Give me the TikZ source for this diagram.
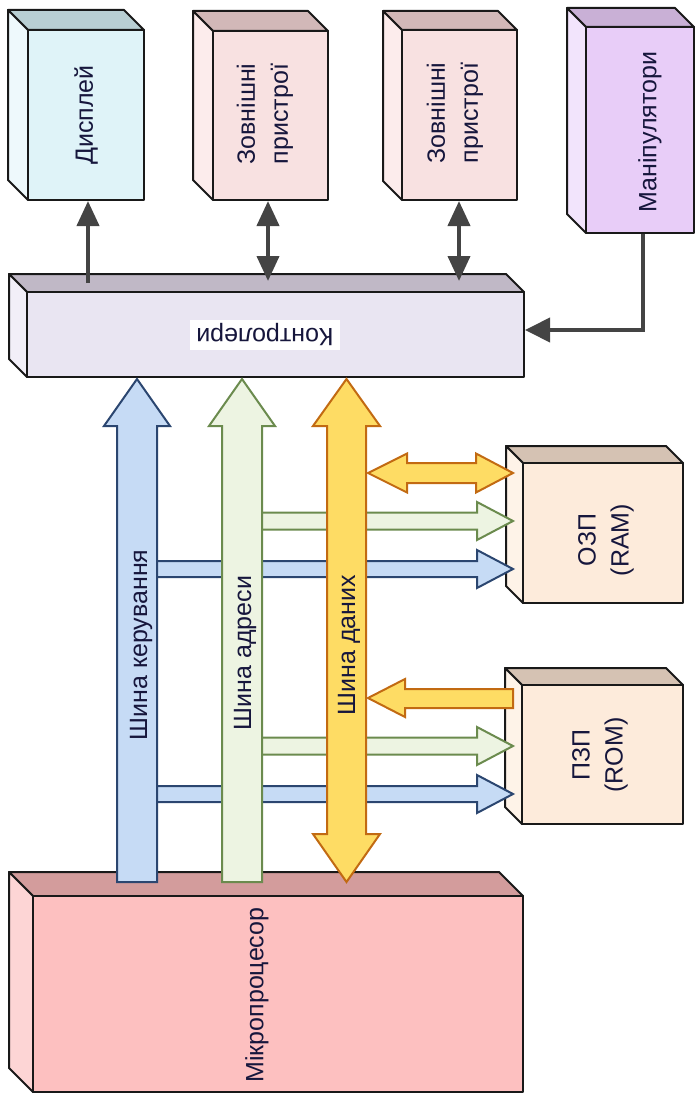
\documentclass[tikz,border=0pt]{standalone}
\usepackage{fontspec}
\setmainfont{Liberation Sans}
\usetikzlibrary{arrows.meta}
\definecolor{txtc}{HTML}{16163C}
\definecolor{dispF}{HTML}{DFF3F8}\definecolor{dispT}{HTML}{B9CFD3}\definecolor{dispS}{HTML}{EEF9FC}
\definecolor{extF}{HTML}{F8E1E1}\definecolor{extT}{HTML}{D2B8B8}\definecolor{extS}{HTML}{FCECEC}
\definecolor{manF}{HTML}{E8CDF8}\definecolor{manT}{HTML}{C9B0D6}\definecolor{manS}{HTML}{F2E4FC}
\definecolor{ctlF}{HTML}{E9E5F2}\definecolor{ctlT}{HTML}{C0B8C6}\definecolor{ctlS}{HTML}{F2EFF8}
\definecolor{memF}{HTML}{FDEBDB}\definecolor{memT}{HTML}{D5C2B3}\definecolor{memS}{HTML}{FEF3E8}
\definecolor{cpuF}{HTML}{FDC0C0}\definecolor{cpuT}{HTML}{D39C9C}\definecolor{cpuS}{HTML}{FDD5D5}
\definecolor{bluF}{HTML}{C6DBF5}\definecolor{bluD}{HTML}{2B4670}
\definecolor{grnF}{HTML}{EDF4E2}\definecolor{grnD}{HTML}{6B8B4E}
\definecolor{yelF}{HTML}{FEDC64}\definecolor{yelD}{HTML}{C26A12}
\definecolor{darkc}{HTML}{444444}
\tikzset{
  boxline/.style={draw=black!90, line width=2pt, line join=round},
  lbl/.style={text=txtc, font=\fontsize{25}{33}\selectfont, align=center, inner sep=1pt},
  darr/.style={draw=darkc, line width=4pt},
  busblue/.style={fill=bluF, draw=bluD, line width=2pt, line join=miter},
  busgreen/.style={fill=grnF, draw=grnD, line width=2pt, line join=miter},
  busyellow/.style={fill=yelF, draw=yelD, line width=2pt, line join=miter},
}
\newcommand{\cubebox}[9]{%
  \filldraw[boxline, fill=#8] (#2-#6,#3-#6) -- (#4-#6,#3-#6) -- (#4,#3) -- (#2,#3) -- cycle;
  \filldraw[boxline, fill=#9] (#2-#6,#3-#6) -- (#2,#3) -- (#2,#5) -- (#2-#6,#5-#6) -- cycle;
  \node[boxline, fill=#7, inner sep=0pt, minimum width={(#4-#2)*1pt}, minimum height={(#5-#3)*1pt}] (#1) at ({(#2+#4)/2},{(#3+#5)/2}) {};
}
\begin{document}
\begin{tikzpicture}[x=1pt,y=-1pt]
\useasboundingbox (0,0) rectangle (696,1094);
% 3D boxes
\cubebox{disp}{28}{30}{144}{200}{20}{dispF}{dispT}{dispS}
\cubebox{ext1}{213}{31}{328}{200}{20}{extF}{extT}{extS}
\cubebox{ext2}{402}{30}{517}{200}{19}{extF}{extT}{extS}
\cubebox{manip}{586}{27}{694}{233}{19}{manF}{manT}{manS}
\cubebox{ctrl}{27}{292}{524}{377}{18}{ctlF}{ctlT}{ctlS}
\cubebox{ram}{523}{463}{683}{603}{17}{memF}{memT}{memS}
\cubebox{rom}{522}{685}{683}{824}{17}{memF}{memT}{memS}
\cubebox{cpu}{33}{896}{523}{1092}{24}{cpuF}{cpuT}{cpuS}
% box labels
\node[lbl, rotate=90] (disp-t) at (86,115) {Дисплей};
\node[lbl, rotate=90] (ext1-t) at (265,114) {Зовнішні\\пристрої};
\node[lbl, rotate=90] (ext2-t) at (455,113) {Зовнішні\\пристрої};
\node[lbl, rotate=90] (manip-t) at (650,132) {Маніпулятори};
\node[lbl, rotate=180, fill=white, inner xsep=6pt, inner ysep=4pt] (ctrl-t) at (265,335) {Контролери};
\node[lbl, rotate=90] (ram-t) at (606,540) {ОЗП\\(RAM)};
\node[lbl, rotate=90] (rom-t) at (600,755) {ПЗП\\(ROM)};
\node[lbl, rotate=90] (cpu-t) at (257,995) {Мікропроцесор};
% dark connectors
\coordinate (c1) at (88,283);
\coordinate (c2) at (268,281);
\coordinate (c3) at (459,281);
\coordinate (m1) at (643,330);
\draw[darr, -{Triangle[length=25pt,width=22pt]}] (c1) -- (c1 |- disp.south);
\draw[darr, {Triangle[length=25pt,width=22pt]}-{Triangle[length=25pt,width=22pt]}] (c2) -- (c2 |- ext1.south);
\draw[darr, {Triangle[length=25pt,width=22pt]}-{Triangle[length=25pt,width=22pt]}] (c3) -- (c3 |- ext2.south);
\draw[darr, -{Triangle[length=25pt,width=24pt]}] (m1 |- manip.south) -- (m1) -- (m1 -| ctrl.east);
% horizontal bus branches (under the vertical buses)
\draw[busyellow] (368,473) -- (407,453.5) -- (407,463) -- (476,463) -- (476,453.5) -- (513,473) -- (476,492.5) -- (476,483) -- (407,483) -- (407,492.5) -- cycle;
\draw[busgreen] (255,512.5) -- (477,512.5) -- (477,502) -- (513,521) -- (477,540) -- (477,529.5) -- (255,529.5) -- cycle;
\draw[busblue] (150,561) -- (477,561) -- (477,550) -- (513,569) -- (477,588) -- (477,577) -- (150,577) -- cycle;
\draw[busyellow] (513,689) -- (405,689) -- (405,679) -- (368,698) -- (405,717) -- (405,708) -- (513,708) -- cycle;
\draw[busgreen] (255,737.5) -- (477,737.5) -- (477,727) -- (513,746) -- (477,765) -- (477,754.5) -- (255,754.5) -- cycle;
\draw[busblue] (150,786) -- (477,786) -- (477,775) -- (513,794) -- (477,813) -- (477,802) -- (150,802) -- cycle;
% vertical buses
\draw[busblue] (117,882) -- (117,426) -- (104,426) -- (137,379) -- (170,426) -- (157,426) -- (157,882) -- cycle;
\draw[busgreen] (222,882) -- (222,426) -- (209,426) -- (242,379) -- (275,426) -- (262,426) -- (262,882) -- cycle;
\draw[busyellow] (327,834) -- (327,426) -- (313,426) -- (346.5,379) -- (380,426) -- (366,426) -- (366,834) -- (380,834) -- (346.5,882) -- (313,834) -- cycle;
% bus labels
\node[lbl, rotate=90] (bus-c) at (141,645) {Шина керування};
\node[lbl, rotate=90] (bus-a) at (245,653) {Шина адреси};
\node[lbl, rotate=90] (bus-d) at (349,645) {Шина даних};
\end{tikzpicture}
\end{document}
